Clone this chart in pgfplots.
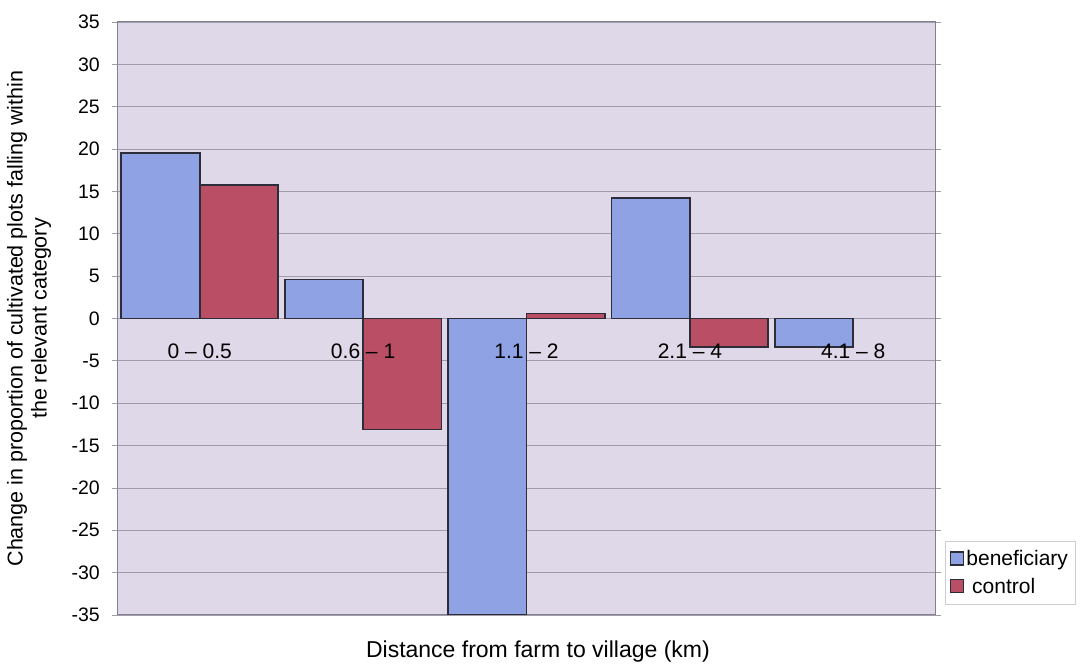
\documentclass[border=0pt]{standalone}
\usepackage{pgfplots}
\pgfplotsset{compat=1.18}
\usepackage{fontspec}
\setmainfont{Liberation Sans}

\definecolor{benef}{RGB}{143,163,228}
\definecolor{ctrl}{RGB}{186,78,100}
\definecolor{plotbg}{RGB}{222,216,232}
\definecolor{gridc}{RGB}{160,156,168}
\definecolor{edgec}{RGB}{45,45,58}
\definecolor{framec}{RGB}{128,128,145}

% tick labels above the bars, grid below them
\pgfplotsset{
    layers/labels on top/.define layer set={
        axis background,axis grid,axis ticks,axis lines,main,axis tick labels,axis descriptions,axis foreground
    }{/pgfplots/layers/standard},
}

\begin{document}
\begin{tikzpicture}
\begin{axis}[
    set layers=labels on top,
    at={(0,0)}, anchor=south west,
    width=817pt, height=593pt, scale only axis,
    xmin=-0.5, xmax=4.5,
    ymin=-35, ymax=35,
    ytick={-35,-30,...,35},
    yticklabels={-35,-30,-25,-20,-15,-10,-5,0,5,10,15,20,25,30,35},
    xtick={0,1,2,3,4},
    xticklabels={0 – 0.5, 0.6 – 1, 1.1 – 2, 2.1 – 4, 4.1 – 8},
    xtick style={draw=none},
    ytick style={draw=gridc, line width=0.8pt},
    tick align=outside,
    major tick length=6pt,
    ymajorgrids,
    grid style={draw=gridc, line width=0.8pt},
    axis line style={draw=framec, line width=1pt},
    axis background/.style={fill=plotbg},
    yticklabel style={font=\fontsize{19.5}{22}\selectfont, inner sep=0pt, xshift=-12pt},
    xticklabel style={font=\fontsize{21}{24}\selectfont, inner sep=0pt, anchor=north, yshift=277pt},
    every axis y label/.style={at={(axis description cs:-0.109,0.5)}, anchor=center, rotate=90,
        align=center, font=\fontsize{21.5}{24}\selectfont},
    every axis x label/.style={at={(axis description cs:0.514,-0.062)}, anchor=center,
        font=\fontsize{23}{26}\selectfont},
    ylabel={Change in proportion of cultivated plots falling within\\the relevant category},
    xlabel={Distance from farm to village (km)},
    ybar=0pt, bar width=0.48,
    legend style={at={(1.012,0.124)}, anchor=north west, draw=gray!40,
        font=\fontsize{21}{25}\selectfont, inner xsep=5pt, inner ysep=7pt, row sep=7pt},
    legend cell align=left,
    legend image code/.code={\draw[#1, line width=1.4pt] (0pt,-6pt) rectangle (13pt,7pt);},
]
\addplot[fill=benef, draw=edgec, line width=1.8pt, bar shift=-0.24]
    coordinates {(0,19.5) (1,4.6) (2,-35) (3,14.2) (4,-3.4)};
\addplot[fill=ctrl, draw=edgec, line width=1.8pt, bar shift=0.24]
    coordinates {(0,15.8) (1,-13.1) (2,0.6) (3,-3.4)};
\legend{beneficiary,\ control}
\end{axis}
\path[use as bounding box] (-118pt,-48pt) rectangle (967pt,615pt);
\end{tikzpicture}
\end{document}
